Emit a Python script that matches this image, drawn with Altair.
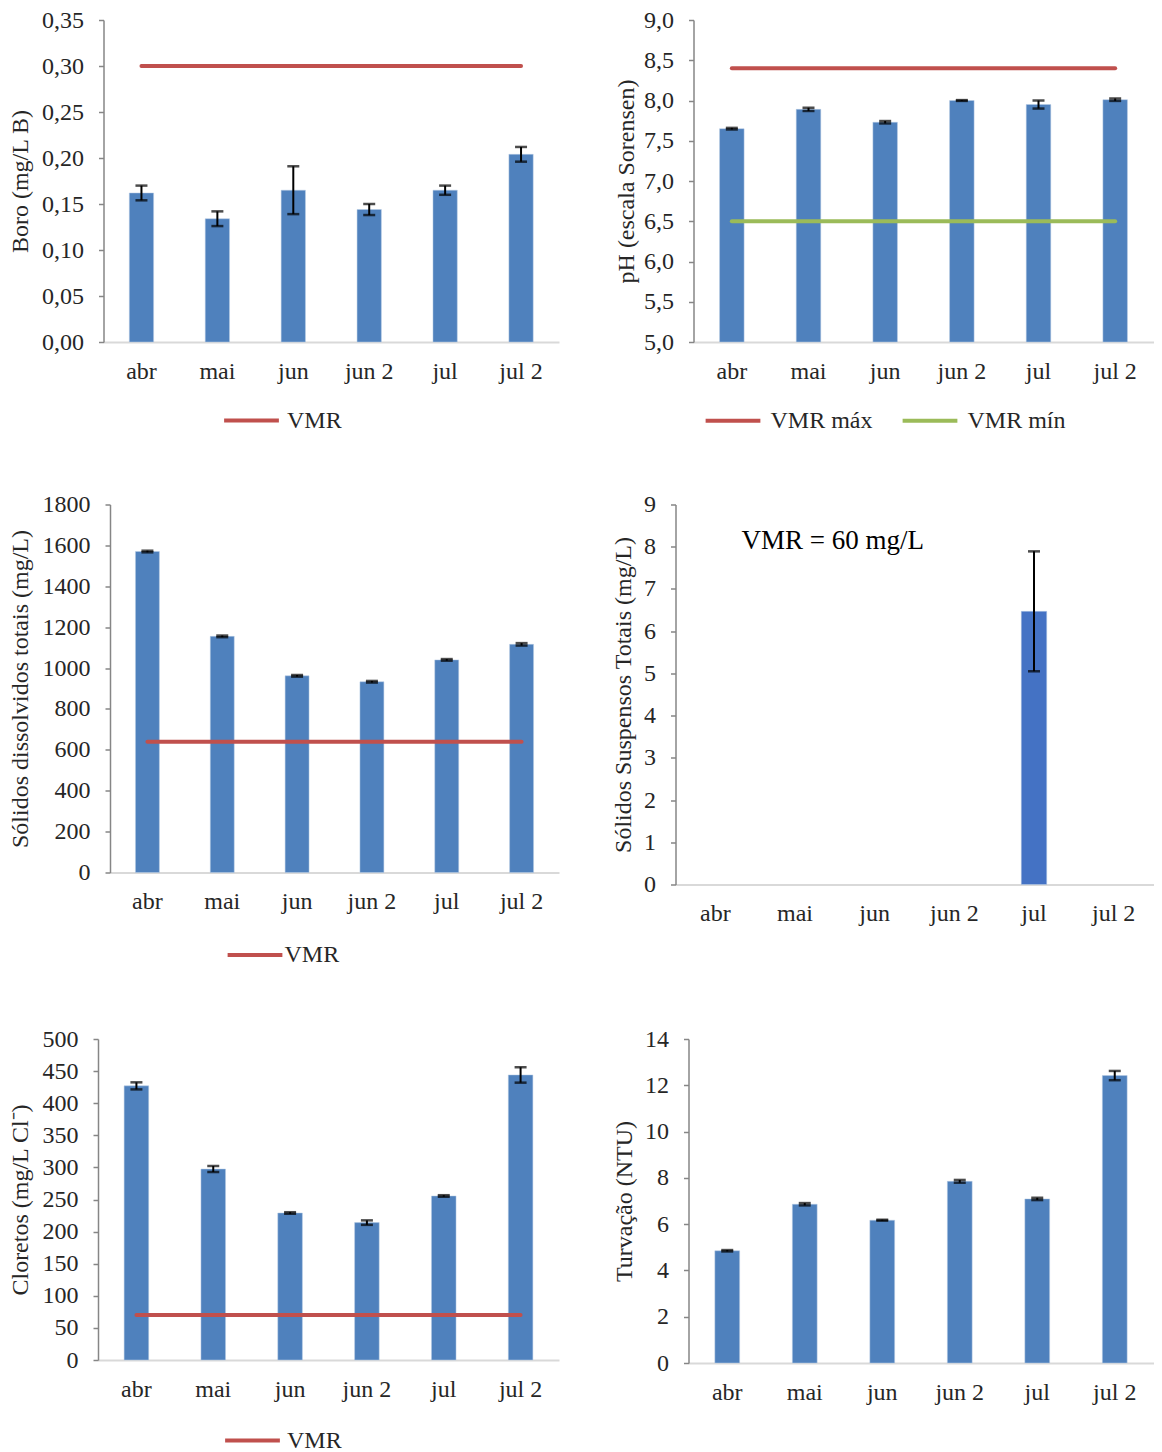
import altair as alt
import pandas as pd

FONT = "Liberation Serif"
TXT = "#262626"

months = ["abr", "mai", "jun", "jun 2", "jul", "jul 2"]

boro = [0.162, 0.134, 0.165, 0.144, 0.165, 0.204]
boro_err = [0.008, 0.008, 0.026, 0.006, 0.005, 0.008]

ph = [7.65, 7.89, 7.73, 8.00, 7.95, 8.01]
ph_err = [0.01, 0.02, 0.015, 0.005, 0.05, 0.015]

tds = [1570, 1155, 962, 933, 1040, 1116]
tds_err = [4, 4, 4, 4, 4, 6]

tss = [None, None, None, None, 6.47, None]
tss_err = [None, None, None, None, 1.42, None]

clor = [427, 297.5, 229, 214, 255.5, 444]
clor_err = [5.5, 4.7, 1.2, 3.5, 1.2, 12]

turb = [4.85, 6.86, 6.17, 7.85, 7.09, 12.42]
turb_err = [0.03, 0.05, 0.02, 0.06, 0.05, 0.2]

BAR = "#4F81BD"
RED = "#C0504D"
GREEN = "#9BBB59"
FS = 24


def panel(values, errors, ymin, ymax, ystep, label_expr, ytitle, width, height,
          extent, shift=0, bar_color=BAR, limits=None, legend_xy=None,
          label_offset=10, col_pad=28, note=None):
    lo = [v - e if v is not None else None for v, e in zip(values, errors)]
    hi = [v + e if v is not None else None for v, e in zip(values, errors)]
    df = pd.DataFrame({"mes": months, "v": values, "lo": lo, "hi": hi})

    ticks = []
    t = ymin
    while t <= ymax + 1e-9:
        ticks.append(round(t, 6))
        t += ystep

    x = alt.X("mes:N", sort=months,
              scale=alt.Scale(range=[shift, width], paddingInner=0.68, paddingOuter=0.34),
              axis=alt.Axis(title=None, labelAngle=0, domainColor="#D9D9D9",
                            domainWidth=2, ticks=False, labelPadding=17,
                            labelFontSize=FS, labelFont=FONT, labelColor=TXT))
    yscale = alt.Scale(domain=[ymin, ymax], nice=False, zero=False)
    yaxis = alt.Axis(title=ytitle, values=ticks, labelExpr=label_expr,
                     grid=False, domainColor="#868686", domainWidth=1.5,
                     tickColor="#868686", tickSize=5, tickWidth=1.5,
                     labelPadding=15, labelFontSize=FS, labelFont=FONT,
                     labelColor=TXT, titleFontSize=FS, titleFont=FONT,
                     titleFontWeight="normal", titleColor=TXT,
                     titlePadding=8, minExtent=extent, maxExtent=extent,
                     offset=-shift)

    def Y(field):
        return alt.Y(field, type="quantitative", scale=yscale, axis=yaxis)

    base = alt.Chart(df)
    bars = base.mark_bar(color=bar_color, stroke="#B9CDE5", strokeWidth=0.5).encode(
        x=x, y=Y("v"), y2=alt.datum(ymin))
    rule = base.mark_rule(color="black", strokeWidth=2).encode(
        x=x, y=Y("lo"), y2="hi")
    cap_lo = base.mark_tick(color="black", size=12, thickness=2.5).encode(x=x, y=Y("lo"))
    cap_hi = base.mark_tick(color="black", size=12, thickness=2.5).encode(x=x, y=Y("hi"))
    layers = [bars, rule, cap_lo, cap_hi]

    if limits:
        rows = []
        for name, val, col in limits:
            for m in months:
                rows.append({"mes": m, "lim": val, "serie": name})
        ldf = pd.DataFrame(rows)
        names = [l[0] for l in limits]
        cols = [l[2] for l in limits]
        line = alt.Chart(ldf).mark_line(strokeWidth=4, strokeCap="round").encode(
            x=x, y=Y("lim"),
            color=alt.Color("serie:N", sort=names,
                            scale=alt.Scale(domain=names, range=cols),
                            legend=alt.Legend(title=None, orient="none",
                                              legendX=legend_xy[0], legendY=legend_xy[1],
                                              direction="horizontal",
                                              symbolType="stroke", symbolSize=3000,
                                              symbolStrokeWidth=4,
                                              labelFontSize=FS, labelFont=FONT,
                                              labelColor=TXT, labelOffset=label_offset,
                                              columnPadding=col_pad)))
        layers.append(line)

    if note:
        ndf = pd.DataFrame({"t": [note]})
        txt = alt.Chart(ndf).mark_text(align="left", baseline="middle", fontSize=27,
                                       font=FONT, color="black").encode(
            x=alt.value(66), y=alt.value(36), text="t:N")
        layers.append(txt)

    return alt.layer(*layers).properties(width=width, height=height)


dec2 = "replace(format(datum.value, '.2f'), '.', ',')"
dec1 = "replace(format(datum.value, '.1f'), '.', ',')"
intf = "format(datum.value, 'd')"

WL = 461  # left column plot width (common origin)

p1 = panel(boro, boro_err, 0, 0.35, 0.05, dec2, "Boro (mg/L B)", WL, 322, 63, shift=5.5,
           limits=[("VMR", 0.30, RED)], legend_xy=(124, 371), label_offset=6)
p2 = panel(ph, ph_err, 5, 9, 0.5, dec1, "pH (escala Sorensen)", 460, 322, 47,
           limits=[("VMR máx", 8.4, RED), ("VMR mín", 6.5, GREEN)], legend_xy=(10, 371),
           label_offset=8, col_pad=22)
p3 = panel(tds, tds_err, 0, 1800, 200, intf, "Sólidos dissolvidos totais (mg/L)", WL, 368,
           69.5, shift=12, limits=[("VMR", 640, RED)], legend_xy=(127.5, 421), label_offset=0)
p4 = panel(tss, tss_err, 0, 9, 1, intf, "Sólidos Suspensos Totais (mg/L)", 478, 380, 32,
           bar_color="#4472C4", note="VMR = 60 mg/L")
p5 = panel(clor, clor_err, 0, 500, 50, intf, "Cloretos (mg/L Cl⁻)", WL, 321, 57.5,
           limits=[("VMR", 70, RED)], legend_xy=(125, 372), label_offset=5)
p6 = panel(turb, turb_err, 0, 14, 2, intf, "Turvação (NTU)", 465, 324, 44.5)

row1 = alt.hconcat(p1, p2, spacing=55.5).resolve_scale(color="independent")
row2 = alt.hconcat(p3, p4, spacing=52.5).resolve_scale(color="independent")
row3 = alt.hconcat(p5, p6, spacing=52.5).resolve_scale(color="independent")

chart = alt.vconcat(row1, row2, row3, spacing=59.5).resolve_scale(
    color="independent").properties(padding=0).configure_view(stroke=None)

chart.save("out.html", embed_options={"renderer": "svg", "actions": False})
